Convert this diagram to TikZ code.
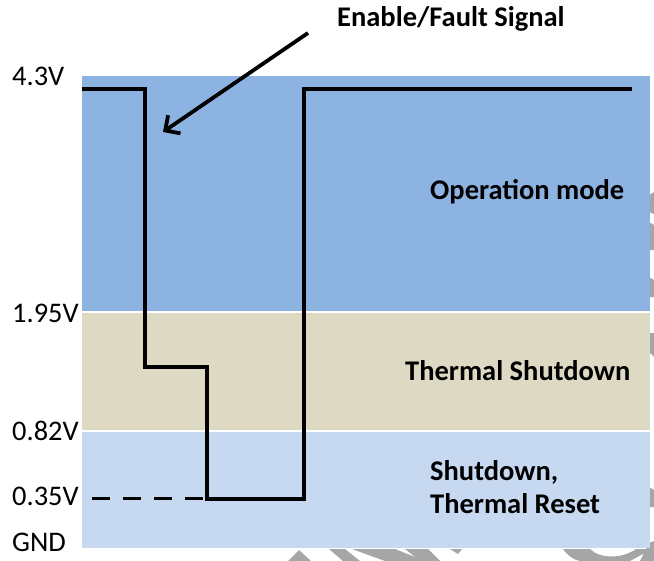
\documentclass[tikz,border=0pt]{standalone}
\usepackage{fontspec}
\setmainfont{Carlito}
\usetikzlibrary{arrows.meta}
\definecolor{opblue}{RGB}{141,179,226}
\definecolor{tsbrown}{RGB}{221,217,195}
\definecolor{sdblue}{RGB}{198,217,241}
\definecolor{wmgray}{RGB}{166,166,166}
\tikzset{
  vlabel/.style={anchor=base west, inner sep=0pt, font=\fontsize{28.5}{32}\selectfont},
  zonelabel/.style={anchor=base west, inner sep=0pt, font=\fontsize{28.6}{33}\selectfont\bfseries, align=left},
  signal/.style={line width=3.5bp, line join=miter, black},
  pointer/.style={line width=3.8bp, -{Straight Barb[length=11bp,width=22bp,line width=3.8bp]}},
  wm/.style={fill=wmgray, draw=none}
}
\begin{document}
\begin{tikzpicture}[x=1bp,y=-1bp]
\useasboundingbox (0,0) rectangle (654,561);
% watermark fragments
\fill[wm] (288,561) -- (299,550) -- (311,561) -- cycle;
\fill[wm] (329,549) -- (345,549) -- (360,561) -- (343,561) -- cycle;
\fill[wm] (352,549) -- (395,549) -- (425,561) -- (385,561) -- cycle;
\fill[wm] (405,549) -- (428,549) -- (440,561) -- (420,561) -- cycle;
\fill[wm] (450,549) -- (462,549) -- (458,554) -- cycle;
\fill[wm] (563,549) .. controls (568,556) and (574,560) .. (580,561) -- (630,561) -- (652,549) -- (636,549) .. controls (622,559) and (600,559) .. (590,549) -- cycle;
\fill[wm] (649,195) -- (654,192) -- (654,214) -- (649,212) -- cycle;
\fill[wm] (649,222) -- (654,225) -- (654,250) -- (649,250) -- cycle;
\fill[wm] (649,277) -- (654,280) -- (654,297) -- (649,297) -- cycle;
\fill[wm] (649,333) -- (654,333) -- (654,357) -- (649,352) -- cycle;
\fill[wm] (649,487) -- (654,490) -- (654,507) -- (649,507) -- cycle;
\fill[wm] (649,543) -- (654,541) -- (654,561) -- (640,561) -- cycle;
% bands
\fill[opblue] (81.5,76.5) rectangle (650,311);
\fill[tsbrown] (81.5,312.5) rectangle (650,430);
\fill[sdblue] (81.5,431.5) rectangle (650,548);
% voltage labels
\node[vlabel] (v43) at (12,86) {4.3V};
\node[vlabel] (v195) at (12,322.7) {1.95V};
\node[vlabel] (v082) at (12,440) {0.82V};
\node[vlabel] (v035) at (12,505) {0.35V};
\node[vlabel] (gnd) at (12,551.7) {GND};
% zone labels
\node[zonelabel] (op) at (430,200) {Operation mode};
\node[zonelabel] (ts) at (405,380) {Thermal Shutdown};
\node[zonelabel] (sd) at (430,513) {Shutdown,\\Thermal Reset};
\node[zonelabel] (sig) at (337,27) {Enable/Fault Signal};
% signal waveform
\draw[signal] (82,89) -- (145,89) -- (145,367) -- (207,367) -- (207,499) -- (304,499) -- (304,89) -- (632,89);
\draw[signal, dash pattern=on 18bp off 13bp] (92,498.5) -- (207,498.5);
% pointer arrow
\coordinate (tail) at (308,33);
\coordinate (tip) at (163,132);
\draw[pointer] (tail) -- (tip);
\end{tikzpicture}
\end{document}
